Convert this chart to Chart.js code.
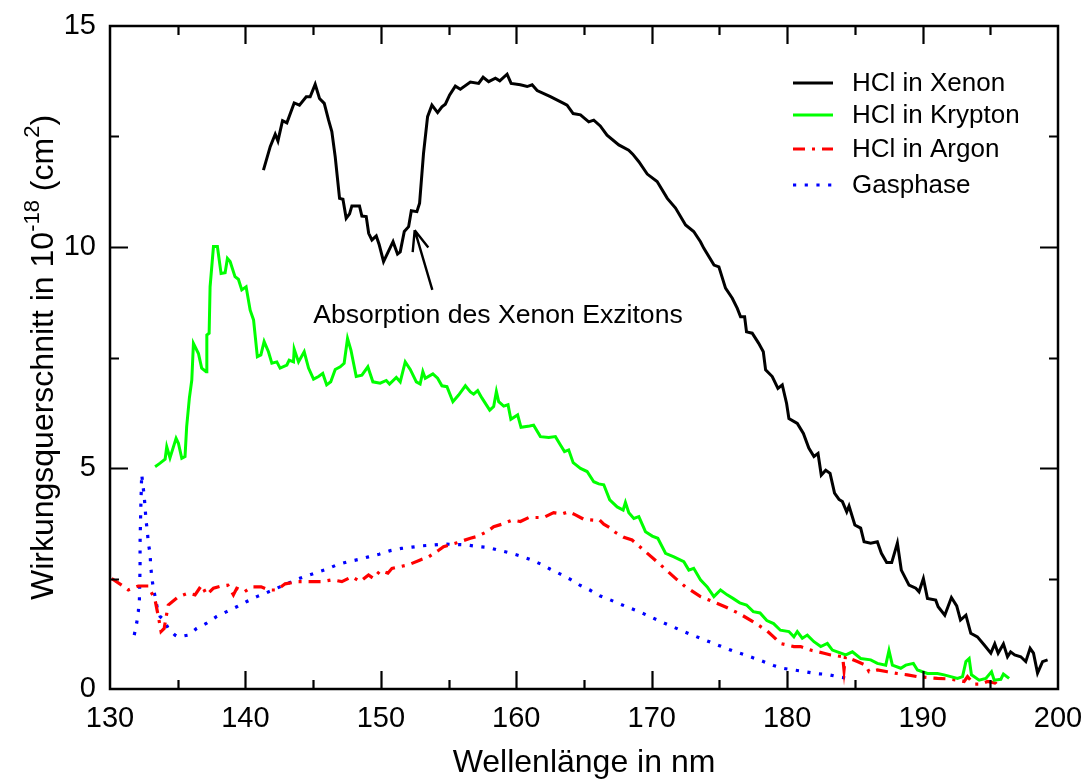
<!DOCTYPE html>
<html>
<head>
<meta charset="utf-8">
<script src="https://cdn.jsdelivr.net/npm/chart.js@4/dist/chart.umd.min.js"></script>
<style>
  html, body { margin: 0; padding: 0; background: #fff; }
  #wrap { width: 1089px; height: 780px; }
</style>
</head>
<body>
<div id="wrap"><canvas id="c" width="1089" height="780"></canvas></div>
<script>
// Absorption cross sections of HCl (10^-18 cm^2) versus wavelength (nm)
const xenonNm = [141.33,141.83,142.2,142.4,142.74,143.06,143.6,143.99,144.49,144.78,145.15,145.47,145.82,146.14,146.38,146.63,146.95,147.2,147.44,147.69,147.86,148.42,148.6,148.92,149.1,149.34,149.66,149.88,150.2,150.9,151.23,151.43,151.73,152.05,152.25,152.66,152.86,153.15,153.45,153.77,154.19,154.51,154.76,155.08,155.5,155.87,156.61,157.22,157.55,157.96,158.46,158.78,159.32,159.62,160.3,160.8,161.17,161.54,162.52,163.5,163.75,164.2,164.74,165.35,165.72,166.2,166.7,167.57,168.3,168.6,169.05,169.67,170.4,171.15,171.76,172.5,173.1,173.6,173.85,174.6,174.96,175.45,175.95,176.32,176.56,176.86,177.0,177.42,177.9,178.24,178.41,178.9,179.32,179.64,179.96,180.13,180.75,181.2,181.6,181.98,182.28,182.52,182.85,183.17,183.5,183.83,184.08,184.4,184.57,185.0,185.43,185.68,186.17,186.66,186.96,187.35,187.72,188.14,188.43,189.0,189.5,189.74,190.06,190.36,190.97,191.15,191.64,192.13,192.52,192.8,193.2,193.56,194.05,194.54,195.04,195.33,195.58,195.97,196.27,196.5,196.8,197.25,197.62,197.94,198.19,198.49,198.86,199.23];
const xenonSigma = [11.74,12.27,12.55,12.4,12.86,12.81,13.26,13.21,13.4,13.4,13.68,13.36,13.25,12.87,12.61,12.04,11.1,11.08,10.65,10.75,10.93,10.93,10.7,10.69,10.31,10.16,10.25,10.05,9.67,10.12,9.84,9.89,10.35,10.46,10.82,10.8,10.99,12.12,12.95,13.21,13.04,13.17,13.23,13.44,13.64,13.57,13.73,13.7,13.84,13.74,13.82,13.76,13.91,13.7,13.67,13.63,13.67,13.54,13.4,13.25,13.21,13.02,12.99,12.83,12.87,12.74,12.53,12.31,12.19,12.1,11.93,11.65,11.48,11.1,10.88,10.5,10.35,10.12,9.97,9.59,9.55,9.07,8.84,8.61,8.42,8.42,8.08,8.05,7.82,7.63,7.22,7.07,6.8,6.88,6.46,6.12,6.01,5.78,5.45,5.26,5.33,4.84,4.95,4.88,4.43,4.29,4.24,4.01,4.14,3.71,3.64,3.33,3.3,3.33,3.07,2.86,2.86,3.3,2.69,2.35,2.28,2.2,2.5,2.05,2.01,1.86,1.67,2.07,1.88,1.56,1.67,1.26,1.18,1.0,0.81,1.02,0.81,1.02,0.73,0.84,0.77,0.73,0.62,0.92,0.81,0.36,0.62,0.66];

const kryptonNm = [133.33,133.7,134.07,134.19,134.43,134.88,135.05,135.3,135.54,135.66,135.86,136.04,136.16,136.53,136.77,137.1,137.15,137.32,137.39,137.64,137.93,138.2,138.5,138.67,138.87,139.23,139.48,139.73,140.05,140.35,140.6,140.88,141.14,141.38,141.7,141.95,142.32,142.56,143.06,143.23,143.55,143.6,143.92,144.34,144.66,145.03,145.4,145.71,146.0,146.3,146.63,147.0,147.29,147.54,147.79,148.18,148.6,149.04,149.41,149.95,150.4,150.64,151.14,151.43,151.8,152.17,152.62,152.9,153.1,153.28,153.84,154.19,154.51,154.88,155.32,155.74,156.24,156.61,156.85,157.15,157.47,158.04,158.33,158.53,158.7,159.07,159.39,159.6,160.1,160.35,160.99,161.28,161.78,162.4,162.89,163.26,163.56,163.87,164.2,164.74,165.23,165.72,166.09,166.46,166.9,167.45,167.89,168.06,168.31,168.68,169.05,169.54,170.04,170.45,171.02,171.64,172.37,172.74,173.1,173.6,174.1,174.59,175.08,175.57,176.0,176.5,177.0,177.5,178.0,178.5,179.0,179.5,180.13,180.5,180.75,181.12,181.49,181.98,182.48,182.97,183.34,183.71,184.33,184.82,185.43,186.17,186.66,187.28,187.52,187.77,188.39,188.76,189.32,189.62,190.36,191.1,191.59,192.08,192.58,192.95,193.2,193.44,193.61,194.18,194.67,195.09,195.29,195.78,195.97,196.39];
const kryptonSigma = [5.03,5.11,5.2,5.48,5.23,5.67,5.56,5.22,5.26,5.93,6.58,6.99,7.82,7.59,7.26,7.18,8.01,8.05,9.1,10.01,10.01,9.4,9.42,9.74,9.67,9.33,9.27,9.03,9.1,8.57,8.35,7.52,7.56,7.86,7.63,7.37,7.4,7.26,7.33,7.44,7.4,7.69,7.4,7.63,7.26,7.01,7.07,7.14,6.88,6.95,7.23,7.29,7.37,7.93,7.67,7.07,7.1,7.29,6.95,6.92,6.98,6.9,7.05,6.95,7.4,7.23,6.95,6.9,7.18,7.03,7.13,7.03,6.86,6.84,6.5,6.65,6.86,6.72,6.67,6.75,6.58,6.31,6.39,6.73,6.5,6.4,6.43,6.1,6.2,5.92,5.95,5.97,5.71,5.69,5.71,5.52,5.37,5.41,5.12,4.99,4.92,4.69,4.64,4.62,4.28,4.12,4.05,4.22,3.99,3.86,3.9,3.56,3.46,3.41,3.07,2.99,2.88,2.69,2.73,2.47,2.31,2.09,2.24,2.13,2.05,1.95,1.9,1.75,1.72,1.55,1.48,1.33,1.3,1.18,1.3,1.15,1.22,1.07,0.96,1.03,0.88,0.84,0.77,0.84,0.69,0.66,0.58,0.54,0.87,0.54,0.47,0.54,0.58,0.43,0.35,0.35,0.32,0.28,0.24,0.28,0.62,0.69,0.32,0.2,0.24,0.39,0.2,0.22,0.34,0.24];

const argonNm = [130.12,130.86,131.35,132.09,132.83,133.33,133.57,133.77,134.0,134.3,135.05,135.78,136.28,136.77,137.14,137.64,138.2,138.7,139.11,139.36,139.93,140.47,141.16,141.7,142.32,142.93,143.92,144.78,145.64,146.38,147.12,147.86,148.48,149.09,149.46,149.96,150.52,150.82,151.43,152.05,152.91,153.53,154.27,154.63,155.62,156.61,157.1,157.84,158.33,158.95,159.69,160.3,160.92,162.02,162.76,163.38,163.87,164.37,164.98,165.72,166.09,166.46,166.95,167.33,167.94,168.55,169.12,170.5,171.88,172.5,172.87,173.6,174.5,175.5,176.5,177.5,178.5,179.0,179.5,180.5,181.0,181.85,182.72,183.22,184.1,184.2,184.3,185.18,185.8,186.05,186.66,187.4,188.14,188.88,189.62,190.36,191.1,191.84,192.58,193.07,193.32,193.81,194.3,194.8,195.4,195.65];
const argonSigma = [2.5,2.35,2.24,2.33,2.33,2.01,1.64,1.3,1.37,1.9,2.09,2.17,2.13,2.35,2.13,2.28,2.33,2.35,2.13,2.28,2.2,2.31,2.31,2.24,2.24,2.38,2.43,2.43,2.43,2.47,2.43,2.54,2.43,2.58,2.5,2.68,2.62,2.73,2.77,2.81,2.92,2.99,3.14,3.22,3.31,3.41,3.45,3.56,3.67,3.73,3.82,3.79,3.88,3.88,3.99,3.96,4.01,3.94,3.84,3.82,3.84,3.73,3.64,3.54,3.43,3.37,3.22,2.85,2.47,2.31,2.24,2.09,1.98,1.85,1.7,1.52,1.32,1.18,1.03,0.96,0.96,0.87,0.81,0.77,0.73,0.43,0.73,0.62,0.54,0.39,0.43,0.39,0.35,0.32,0.28,0.26,0.24,0.23,0.2,0.17,0.28,0.11,0.11,0.17,0.13,0.02];

const gasNm = [131.79,131.97,132.09,132.17,132.22,132.22,132.27,132.34,132.53,132.66,132.76,132.83,132.96,133.0,133.08,133.2,133.33,133.5,133.7,134.0,134.3,134.8,135.05,135.78,136.4,137.14,137.88,138.62,139.36,140.1,140.84,141.58,142.32,143.06,143.8,144.54,145.28,146.0,146.76,147.57,148.35,149.09,149.88,150.7,151.5,152.3,153.08,153.9,154.7,155.5,156.36,157.22,157.96,158.7,159.51,160.3,161.04,161.78,162.52,163.26,164.0,164.69,165.43,166.16,166.83,168.0,169.0,170.0,171.0,172.0,173.0,174.0,175.0,176.0,177.0,178.0,179.0,179.64,180.5,181.37,182.1,182.97,183.71,184.57];
const gasSigma = [1.22,1.49,1.75,2.01,2.77,3.3,4.05,4.86,4.35,3.82,3.56,3.3,3.07,2.81,2.54,2.28,2.09,1.82,1.64,1.56,1.37,1.22,1.18,1.22,1.37,1.49,1.64,1.75,1.86,1.98,2.09,2.18,2.28,2.38,2.48,2.56,2.64,2.71,2.81,2.88,2.93,2.99,3.05,3.13,3.18,3.21,3.24,3.26,3.28,3.27,3.26,3.22,3.2,3.14,3.08,3.01,2.93,2.83,2.71,2.6,2.48,2.35,2.24,2.11,2.03,1.88,1.76,1.62,1.48,1.35,1.22,1.1,0.98,0.86,0.76,0.65,0.53,0.47,0.43,0.39,0.35,0.33,0.28,0.24];

const seriesLabels = ['HCl in Xenon', 'HCl in Krypton', 'HCl in Argon', 'Gasphase'];
const xTickValues = [130, 140, 150, 160, 170, 180, 190, 200];
const yTickValues = [0, 5, 10, 15];
const annotationText = 'Absorption des Xenon Exzitons';

const FONT = "'Liberation Sans', Arial, Helvetica, sans-serif";

function pts(xs, ys) { return xs.map((x, i) => ({ x: x, y: ys[i] })); }

// frame with inward major/minor ticks on all four sides
const framePlugin = {
  id: 'frame',
  afterDatasetsDraw(chart) {
    const { ctx, chartArea: a, scales } = chart;
    ctx.save();
    ctx.strokeStyle = '#000';
    ctx.lineWidth = 2.5;
    ctx.lineCap = 'butt';
    ctx.strokeRect(a.left, a.top, a.right - a.left, a.bottom - a.top);
    ctx.lineWidth = 2.2;
    const big = 18, small = 9;
    for (let v = 135; v < 200; v += 5) {
      const px = Math.round(scales.x.getPixelForValue(v)) + 0.5;
      const L = (v % 10 === 0) ? big : small;
      ctx.beginPath();
      ctx.moveTo(px, a.bottom); ctx.lineTo(px, a.bottom - L);
      ctx.moveTo(px, a.top); ctx.lineTo(px, a.top + L);
      ctx.stroke();
    }
    for (let v = 2.5; v < 15; v += 2.5) {
      const py = Math.round(scales.y.getPixelForValue(v)) + 0.5;
      const L = (v % 5 === 0) ? big : small;
      ctx.beginPath();
      ctx.moveTo(a.left, py); ctx.lineTo(a.left + L, py);
      ctx.moveTo(a.right, py); ctx.lineTo(a.right - L, py);
      ctx.stroke();
    }
    ctx.restore();
  }
};

// axis titles, the y title carries superscripts
const titlesPlugin = {
  id: 'titles',
  afterDraw(chart) {
    const { ctx, chartArea: a } = chart;
    ctx.save();
    ctx.fillStyle = '#000';
    ctx.textBaseline = 'alphabetic';
    ctx.font = '32px ' + FONT;
    ctx.textAlign = 'center';
    ctx.fillText('Wellenlänge in nm', (a.left + a.right) / 2, 772);

    const parts = [
      { t: 'Wirkungsquerschnitt in 10', s: 32, dy: 0 },
      { t: '-18', s: 22, dy: -14 },
      { t: ' (cm', s: 32, dy: 0 },
      { t: '2', s: 22, dy: -14 },
      { t: ')', s: 32, dy: 0 }
    ];
    let total = 0;
    parts.forEach(p => { ctx.font = p.s + 'px ' + FONT; p.w = ctx.measureText(p.t).width; total += p.w; });
    ctx.translate(53, (a.top + a.bottom) / 2);
    ctx.rotate(-Math.PI / 2);
    ctx.textAlign = 'left';
    let x = -total / 2;
    parts.forEach(p => { ctx.font = p.s + 'px ' + FONT; ctx.fillText(p.t, x, p.dy); x += p.w; });
    ctx.restore();
  }
};

// legend in the upper right corner
const legendPlugin = {
  id: 'legendBox',
  afterDraw(chart) {
    const { ctx } = chart;
    ctx.save();
    ctx.font = '26px ' + FONT;
    ctx.textBaseline = 'middle';
    ctx.textAlign = 'left';
    const rows = [83, 115, 149, 185];
    chart.data.datasets.forEach((ds, i) => {
      const y = rows[i];
      ctx.strokeStyle = ds.borderColor;
      ctx.lineWidth = ds.borderWidth;
      ctx.setLineDash(ds.borderDash || []);
      ctx.lineCap = 'butt';
      ctx.beginPath();
      ctx.moveTo(793, y); ctx.lineTo(833, y);
      ctx.stroke();
      ctx.setLineDash([]);
      ctx.fillStyle = '#000';
      ctx.fillText(ds.label, 852, y + 1);
    });
    ctx.restore();
  }
};

// text and arrow marking the exciton absorption
const annotationPlugin = {
  id: 'exciton',
  afterDatasetsDraw(chart) {
    const { ctx, scales } = chart;
    const X = v => scales.x.getPixelForValue(v);
    const Y = v => scales.y.getPixelForValue(v);
    ctx.save();
    ctx.fillStyle = '#000';
    ctx.font = '26.6px ' + FONT;
    ctx.textBaseline = 'middle';
    ctx.textAlign = 'left';
    ctx.fillText(annotationText, X(145.0), Y(8.44));
    const tx = X(152.5), ty = Y(10.38), bx = X(153.8), by = Y(9.03);
    ctx.strokeStyle = '#000';
    ctx.lineWidth = 2.4;
    ctx.beginPath();
    ctx.moveTo(bx, by); ctx.lineTo(tx, ty);
    const ang = Math.atan2(ty - by, tx - bx);
    const hl = 22, spread = 0.38;
    ctx.moveTo(tx, ty);
    ctx.lineTo(tx - hl * Math.cos(ang - spread), ty - hl * Math.sin(ang - spread));
    ctx.moveTo(tx, ty);
    ctx.lineTo(tx - hl * Math.cos(ang + spread), ty - hl * Math.sin(ang + spread));
    ctx.stroke();
    ctx.restore();
  }
};

new Chart(document.getElementById('c'), {
  type: 'line',
  data: {
    datasets: [
      { label: seriesLabels[0], data: pts(xenonNm, xenonSigma), borderColor: '#000000', borderWidth: 3 },
      { label: seriesLabels[1], data: pts(kryptonNm, kryptonSigma), borderColor: '#00ff00', borderWidth: 3 },
      { label: seriesLabels[2], data: pts(argonNm, argonSigma), borderColor: '#ff0000', borderWidth: 3.2, borderDash: [12, 7, 3, 7] },
      { label: seriesLabels[3], data: pts(gasNm, gasSigma), borderColor: '#0000ff', borderWidth: 3.2, borderDash: [3.2, 8.5] }
    ]
  },
  options: {
    responsive: false,
    animation: false,
    devicePixelRatio: 1,
    elements: { point: { radius: 0 }, line: { tension: 0, fill: false, borderCapStyle: 'butt', borderJoinStyle: 'miter' } },
    layout: { padding: { top: 26, right: 31, left: 0, bottom: 0 } },
    plugins: { legend: { display: false }, tooltip: { enabled: false } },
    scales: {
      x: {
        type: 'linear', min: 130, max: 200,
        grid: { display: false, drawTicks: false }, border: { display: false },
        afterBuildTicks(s) { s.ticks = xTickValues.map(v => ({ value: v })); },
        ticks: { font: { size: 29, family: FONT }, color: '#000', padding: 13, maxRotation: 0 },
        afterFit(s) { s.height = 91; s.paddingLeft = 0; s.paddingRight = 0; }
      },
      y: {
        type: 'linear', min: 0, max: 15,
        grid: { display: false, drawTicks: false }, border: { display: false },
        afterBuildTicks(s) { s.ticks = yTickValues.map(v => ({ value: v })); },
        ticks: { font: { size: 29, family: FONT }, color: '#000', padding: 14 },
        afterFit(s) { s.width = 110; s.paddingTop = 0; s.paddingBottom = 0; }
      }
    }
  },
  plugins: [framePlugin, annotationPlugin, titlesPlugin, legendPlugin]
});
</script>
</body>
</html>
